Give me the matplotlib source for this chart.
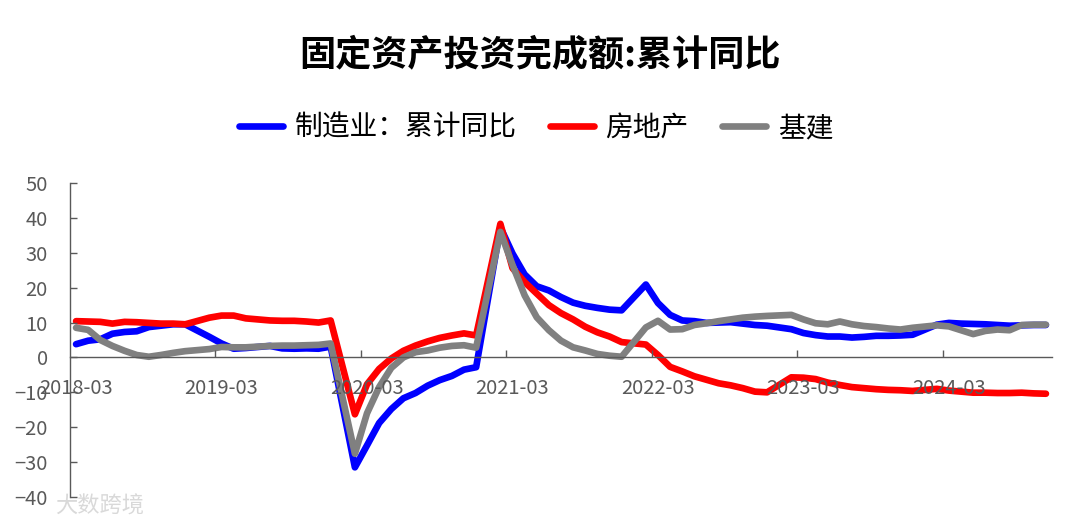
import matplotlib
matplotlib.use('Agg')
import matplotlib.pyplot as plt
from matplotlib.lines import Line2D

plt.rcParams['font.family'] = ['Noto Sans CJK SC', 'DejaVu Sans']

title = "固定资产投资完成额:累计同比"
series_names = ["制造业：累计同比", "房地产", "基建"]
colors = ["#0000FF", "#FF0000", "#808080"]

# monthly cumulative data (January not published), 2018-03 .. 2024-11
months = [f"{y}-{m:02d}" for y in range(2018, 2025) for m in range(2, 13)
          if not (y == 2018 and m < 3) and not (y == 2024 and m > 11)]

manufacturing = [
    3.8, 4.8, 5.2, 6.8, 7.3, 7.5, 8.7, 9.1, 9.5, 9.5,
    5.9, 4.0, 2.5, 2.7, 3.0, 3.3, 2.6, 2.5, 2.6, 2.5, 3.1,
    -31.5, -25.2, -18.8, -14.8, -11.7, -10.2, -8.1, -6.5, -5.3, -3.5, -2.8,
    37.3, 29.8, 23.8, 20.4, 19.2, 17.3, 15.7, 14.8, 14.2, 13.7, 13.5,
    20.9, 15.6, 12.2, 10.6, 10.4, 9.9, 10.0, 10.1, 9.7, 9.3, 9.1,
    8.1, 7.0, 6.4, 6.0, 6.0, 5.7, 5.9, 6.2, 6.2, 6.3, 6.5,
    9.4, 9.9, 9.7, 9.6, 9.5, 9.3, 9.1, 9.2, 9.3, 9.3,
]
real_estate = [
    10.4, 10.3, 10.2, 9.7, 10.2, 10.1, 9.9, 9.7, 9.7, 9.5,
    11.4, 12.0, 12.0, 11.2, 10.9, 10.6, 10.5, 10.5, 10.3, 10.0, 10.6,
    -16.3, -7.7, -3.3, -0.3, 1.9, 3.4, 4.6, 5.6, 6.3, 6.9, 6.3,
    38.3, 25.6, 21.6, 18.3, 15.0, 12.7, 10.9, 8.8, 7.2, 6.0, 4.4,
    3.7, 0.7, -2.7, -4.0, -5.4, -6.4, -7.4, -8.0, -8.8, -9.8, -10.0,
    -5.7, -5.8, -6.2, -7.2, -7.9, -8.5, -8.8, -9.1, -9.3, -9.4, -9.6,
    -9.0, -9.5, -9.8, -10.1, -10.1, -10.2, -10.2, -10.1, -10.3, -10.4,
]
infrastructure = [
    8.5, 7.9, 5.0, 3.3, 1.9, 0.7, 0.2, 0.7, 1.3, 1.8,
    2.4, 3.0, 2.9, 2.9, 3.1, 3.3, 3.4, 3.4, 3.5, 3.6, 4.0,
    -27.6, -16.0, -8.5, -3.0, 0.0, 1.5, 2.0, 2.8, 3.3, 3.5, 2.8,
    36.0, 26.5, 17.8, 11.5, 7.8, 4.8, 2.9, 2.0, 1.0, 0.5, 0.2,
    8.6, 10.5, 8.0, 8.1, 9.3, 9.8, 10.4, 10.9, 11.4, 11.7, 11.9,
    12.2, 10.9, 9.8, 9.5, 10.3, 9.5, 9.0, 8.7, 8.3, 8.0, 8.5,
    9.2, 8.9, 7.8, 6.7, 7.6, 8.0, 7.8, 9.3, 9.4, 9.4,
]
tick_labels = ["2018-03", "2019-03", "2020-03", "2021-03", "2022-03", "2023-03", "2024-03"]
y_ticks = [-40, -30, -20, -10, 0, 10, 20, 30, 40, 50]


def month_pos(s):
    y, m = s.split("-")
    return (int(y) - 2018) * 12 + int(m) - 3


x = [month_pos(s) for s in months]

W, H = 1080, 526
fig = plt.figure(figsize=(W / 100, H / 100), dpi=100)
ax = fig.add_axes([70 / W, 1 - 497 / H, (1052 - 70) / W, (497 - 183) / H])

for vals, c in zip([manufacturing, real_estate, infrastructure], colors):
    ax.plot(x, vals, color=c, lw=4.8, solid_capstyle='round', solid_joinstyle='round')

ax.set_ylim(-40, 50)
ax.set_yticks(y_ticks)
ax.set_xlim(-0.5, month_pos(months[-1]) + 0.5)

for s in ['top', 'right']:
    ax.spines[s].set_visible(False)
ax.spines['bottom'].set_position(('data', 0))
for s in ['bottom', 'left']:
    ax.spines[s].set_color('#595959')
    ax.spines[s].set_linewidth(1.0)

centers = [month_pos(t) for t in tick_labels]
bounds = [c - 0.5 for c in centers[1:]]
ax.set_xticks(bounds)
ax.set_xticklabels([])
ax.set_xticks(centers, minor=True)
ax.set_xticklabels(tick_labels, minor=True)
ax.tick_params(axis='x', which='major', direction='in', length=5, width=1, color='#595959')
ax.tick_params(axis='x', which='minor', length=0, pad=15, labelsize=14.5, labelcolor='#595959')
ax.tick_params(axis='y', direction='in', length=5, width=1, color='#595959',
               labelsize=14.5, labelcolor='#595959', pad=16)
ax.set_axisbelow(False)

fig.text(0.5, 1 - 55 / H, title, ha='center', va='center', fontsize=26, fontweight='bold')

handles = [Line2D([], [], color=c, lw=4.8, solid_capstyle='round') for c in colors]
fig.legend(handles, series_names, loc='center', bbox_to_anchor=(536 / W, 1 - 128 / H),
           ncol=3, frameon=False, fontsize=20, handlelength=1.6, handletextpad=0.4,
           columnspacing=1.2)

fig.text(55 / W, 1 - 506 / H, "大数跨境", ha='left', va='center', fontsize=16,
         color='#d9d9d9')

fig.savefig('out.png', dpi=100)
